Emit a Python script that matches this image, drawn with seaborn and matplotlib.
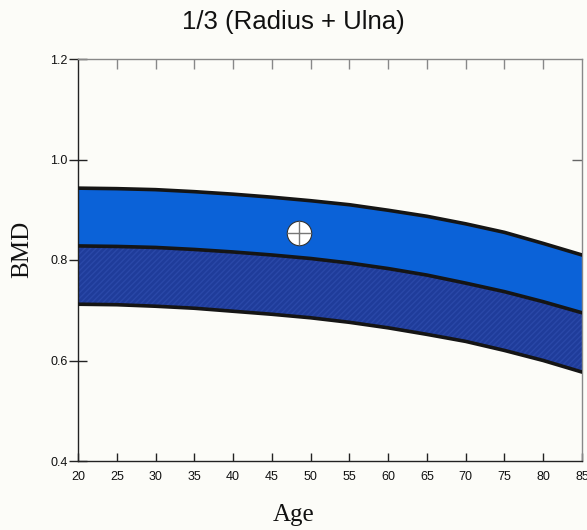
import matplotlib
matplotlib.use("Agg")
import matplotlib.pyplot as plt
import seaborn as sns
import pandas as pd

# ---- data ----
ages = [20, 25, 30, 35, 40, 45, 50, 55, 60, 65, 70, 75, 80, 85]
upper = [0.943, 0.942, 0.940, 0.936, 0.931, 0.925, 0.918, 0.910, 0.899, 0.887, 0.872, 0.855, 0.833, 0.810]
middle = [0.828, 0.827, 0.825, 0.821, 0.816, 0.810, 0.803, 0.794, 0.783, 0.770, 0.754, 0.737, 0.717, 0.695]
lower = [0.712, 0.711, 0.708, 0.704, 0.698, 0.692, 0.685, 0.676, 0.665, 0.652, 0.638, 0.620, 0.600, 0.577]
patient_age = [48.5]
patient_bmd = [0.854]
x_ticks = [20, 25, 30, 35, 40, 45, 50, 55, 60, 65, 70, 75, 80, 85]
y_ticks = [0.4, 0.6, 0.8, 1.0, 1.2]
title = "1/3 (Radius + Ulna)"

sns.set_theme(style="white")
plt.rcParams['font.family'] = ['Liberation Sans', 'DejaVu Sans']

bg = '#fcfcf8'
fig = plt.figure(figsize=(5.87, 5.30), dpi=100, facecolor=bg)
ax = fig.add_axes([78/587, 1-461/530, (582-78)/587, (461-59)/530])
ax.set_facecolor(bg)

df = pd.DataFrame({"age": ages, "upper": upper, "middle": middle, "lower": lower})

ax.fill_between(df["age"], df["middle"], df["upper"], color='#0b62d8', lw=0, zorder=1)
ax.fill_between(df["age"], df["lower"], df["middle"], color='#1f3c9a', lw=0, zorder=1,
                hatch='//////', edgecolor='#2a48a8')
for col in ["upper", "middle", "lower"]:
    sns.lineplot(data=df, x="age", y=col, ax=ax, color='#151515', lw=2.6, zorder=3)

pdf = pd.DataFrame({"age": patient_age, "bmd": patient_bmd})
sns.scatterplot(data=pdf, x="age", y="bmd", ax=ax, s=310, color='white',
                edgecolor='#333333', linewidth=0.8, zorder=4)
sns.scatterplot(data=pdf, x="age", y="bmd", ax=ax, s=310, marker='+', color='#777777',
                linewidth=1.0, zorder=5)

ax.set_xlim(20, 85)
ax.set_ylim(0.4, 1.2)
ax.set_xticks(x_ticks)
ax.set_yticks(y_ticks)
ax.set_xticklabels([str(t) for t in x_ticks])
ax.set_yticklabels([f"{t:.1f}" for t in y_ticks])
ax.set_xlabel("")
ax.set_ylabel("")

for s in ['left', 'bottom']:
    ax.spines[s].set_color('#222222')
    ax.spines[s].set_linewidth(1.0)
for s in ['top', 'right']:
    ax.spines[s].set_color('#888888')
    ax.spines[s].set_linewidth(1.0)

ax.tick_params(axis='x', which='major', direction='in', length=6, width=1, color='#222222',
               bottom=True, top=False, labelsize=9, pad=7, labelcolor='#111111')
ax.tick_params(axis='y', which='major', direction='inout', length=13, width=1, color='#222222',
               left=True, right=False, labelsize=9, pad=1, labelcolor='#111111')

# top and right ticks (inward)
sec_x = ax.secondary_xaxis('top')
sec_x.set_xticks(x_ticks[1:-1])
sec_x.tick_params(direction='in', length=7, width=1, color='#888888', labeltop=False)
sec_x.spines['top'].set_visible(False)
sec_y = ax.secondary_yaxis('right')
sec_y.set_yticks(y_ticks[1:-1])
sec_y.tick_params(direction='in', length=7, width=1, color='#666666', labelright=False)
sec_y.spines['right'].set_visible(False)

fig.text(0.5, 1-22/530, title, ha='center', va='center', fontsize=18.5, color='#111111')
fig.text(0.5, 1-515/530, "Age", ha='center', va='center', fontsize=18,
         family=['Liberation Serif', 'DejaVu Serif'], color='#111111')
fig.text(22/587, 1-249/530, "BMD", ha='center', va='center', fontsize=18, rotation=90,
         family=['Liberation Serif', 'DejaVu Serif'], color='#111111')

fig.savefig("out.png", dpi=100, facecolor=bg)
